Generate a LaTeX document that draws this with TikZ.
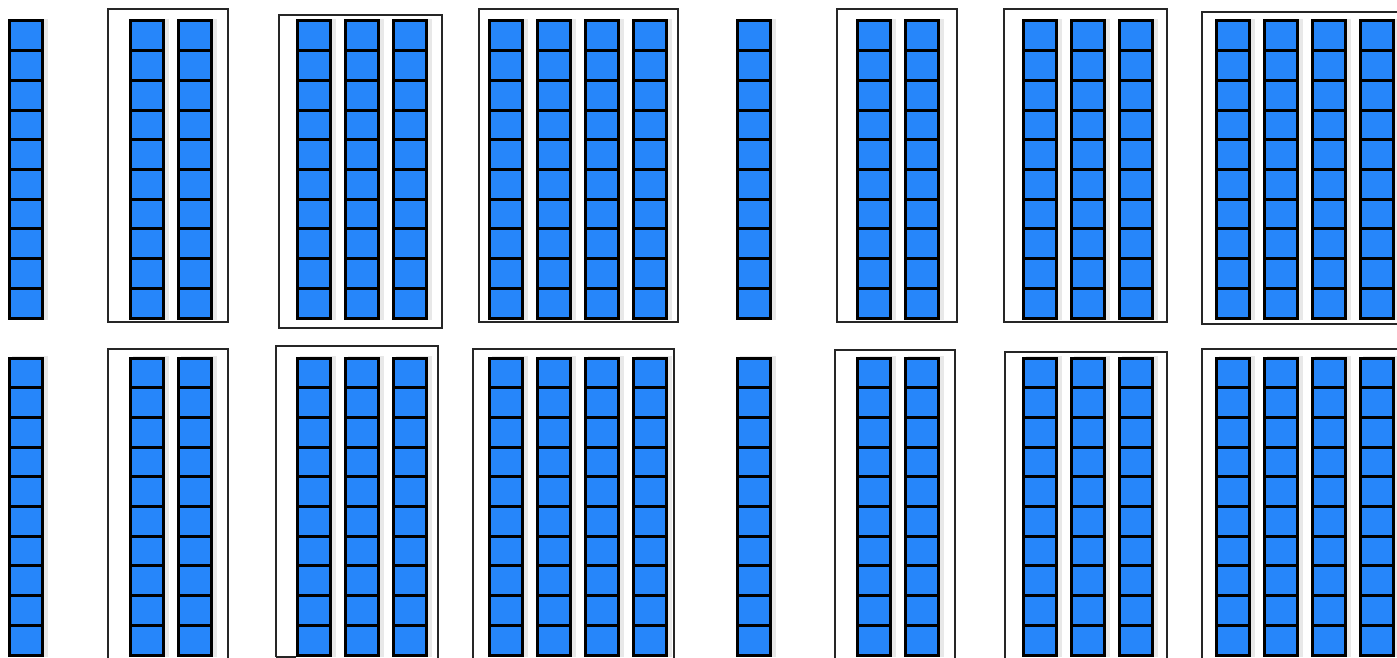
\documentclass[tikz,border=0pt]{standalone}
\definecolor{cubeblue}{RGB}{38,134,250}
\definecolor{shade}{RGB}{232,232,232}
\tikzset{
  cube/.style={fill=cubeblue, draw=black, line width=3pt, line join=miter},
  cubeshadow/.style={fill=shade, draw=none},
  frame/.style={draw=black!85, line width=1.2pt},
}
\newcommand{\tencol}[2]{%
  % #1 = left x, #2 = top y
  \fill[cubeshadow] (#1+3,#2-2) rectangle (#1+39,#2+299);
  \foreach \k in {0,...,9}{
    \draw[cube] (#1,#2+\k*29.7) rectangle (#1+33,#2+\k*29.7+29.7);
  }%
}
\begin{document}
\begin{tikzpicture}[x=1pt,y=-1pt]
\useasboundingbox (0,0) rectangle (1397,658);
\begin{scope}
\clip (0,0) rectangle (1397,658);
% ---- frames row 1
\draw[frame] (108,9) rectangle (228,322);
\draw[frame] (279,15) rectangle (442,328);
\draw[frame] (479,9) rectangle (678,322);
\draw[frame] (837,9) rectangle (957,322);
\draw[frame] (1004,9) rectangle (1167,322);
\draw[frame] (1202,12) rectangle (1420,324);
% ---- frames row 2
\draw[frame] (108,680) -- (108,349) -- (228,349) -- (228,680);
\draw[frame] (276,657) -- (276,346) -- (438,346) -- (438,680);
\draw[frame] (276,657) -- (296,657);
\draw[frame] (473,680) -- (473,349) -- (674,349) -- (674,680);
\draw[frame] (835,680) -- (835,350) -- (955,350) -- (955,680);
\draw[frame] (1005,680) -- (1005,352) -- (1167,352) -- (1167,680);
\draw[frame] (1202,680) -- (1202,349) -- (1420,349);
% ---- columns
\foreach \y in {21,358}{
  \foreach \x in {9,130,178,297,345,393,489,537,585,633,737,857,905,1023,1071,1119,1216,1264,1312,1360}{
    \tencol{\x}{\y}
  }
}
\end{scope}
\end{tikzpicture}
\end{document}
